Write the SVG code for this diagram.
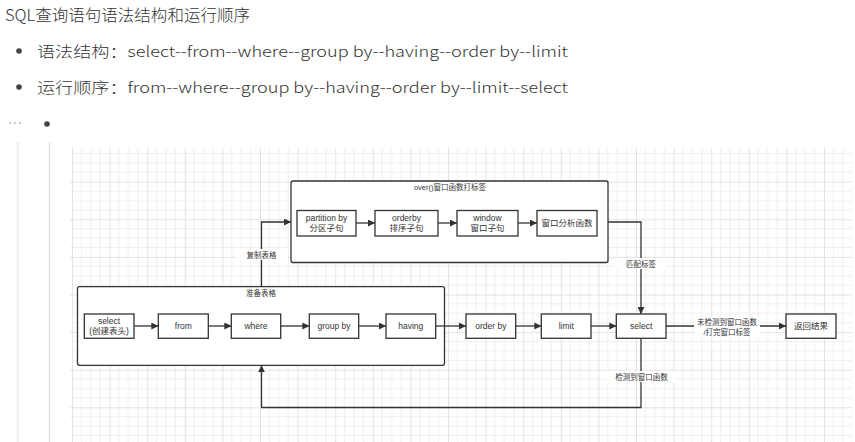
<svg xmlns="http://www.w3.org/2000/svg" width="855" height="442" viewBox="0 0 855 442">
<style>
.doc{font-family:"Noto Sans CJK SC","Noto Sans",sans-serif;fill:#333;font-weight:300}
.t{font-family:"Liberation Sans","Noto Sans CJK SC",sans-serif;font-size:8.5px;fill:#333;text-anchor:middle}
.lbl{font-family:"Liberation Sans","Noto Sans CJK SC",sans-serif;font-size:7.5px;fill:#333;text-anchor:middle}
.box{fill:#fff;stroke:#333;stroke-width:1.3}
.cont{fill:#fff;stroke:#333;stroke-width:1.3}
.e{fill:none;stroke:#333;stroke-width:1.3}
</style>
<defs>
<marker id="ah" viewBox="0 0 10 10" refX="10" refY="5" markerWidth="7" markerHeight="7" markerUnits="userSpaceOnUse" orient="auto">
<path d="M0,0 L10,5 L0,10 z" fill="#333"/>
</marker>
<pattern id="grid" x="72" y="144.1" width="37.6" height="37.6" patternUnits="userSpaceOnUse">
<path d="M9.4,0 V37.6 M18.8,0 V37.6 M28.2,0 V37.6 M0,9.4 H37.6 M0,18.8 H37.6 M0,28.2 H37.6" stroke="#efefef" stroke-width="1"/>
<path d="M0.5,0 V37.6 M0,0.5 H37.6" stroke="#e3e3e3" stroke-width="1"/>
</pattern>
</defs>
<rect width="855" height="442" fill="#fff"/>
<!-- document text -->
<text class="doc" x="5" y="21" font-size="16" textLength="245" lengthAdjust="spacingAndGlyphs">SQL查询语句语法结构和运行顺序</text>
<circle cx="19" cy="51" r="2.8" fill="#444"/>
<text class="doc" x="37" y="56.5" font-size="15" textLength="531" lengthAdjust="spacingAndGlyphs">语法结构：select--from--where--group by--having--order by--limit</text>
<circle cx="19" cy="87" r="2.8" fill="#444"/>
<text class="doc" x="37" y="92.5" font-size="15" textLength="531" lengthAdjust="spacingAndGlyphs">运行顺序：from--where--group by--having--order by--limit--select</text>
<g fill="#bbb"><circle cx="10" cy="123" r="1"/><circle cx="15" cy="123" r="1"/><circle cx="20" cy="123" r="1"/></g>
<circle cx="47" cy="124" r="2.8" fill="#444"/>
<line x1="17.7" y1="142" x2="17.7" y2="442" stroke="#ececec" stroke-width="2"/>
<line x1="49.5" y1="142" x2="49.5" y2="442" stroke="#dcdcdc" stroke-width="1.2"/>
<!-- canvas grid -->
<rect x="70" y="148" width="782" height="294" fill="url(#grid)"/>

<!-- containers -->
<g id="over-container">
<rect class="cont" x="291" y="181" width="317" height="81.5" rx="2"/>
<text class="lbl" x="450" y="190">over()窗口函数打标签</text>
</g>
<g id="prep-container">
<rect class="cont" x="77.5" y="286.7" width="367" height="78.6" rx="2"/>
<text class="lbl" x="261" y="296">准备表格</text>
</g>

<!-- connectors -->
<g id="connectors">
<path class="e" d="M356,223 H375" marker-end="url(#ah)"/>
<path class="e" d="M438,223 H457" marker-end="url(#ah)"/>
<path class="e" d="M518,223 H537" marker-end="url(#ah)"/>
<path class="e" d="M134,326 H158.3" marker-end="url(#ah)"/>
<path class="e" d="M208.3,326 H231.3" marker-end="url(#ah)"/>
<path class="e" d="M280.7,326 H309.3" marker-end="url(#ah)"/>
<path class="e" d="M358.7,326 H386" marker-end="url(#ah)"/>
<path class="e" d="M435.7,326 H466" marker-end="url(#ah)"/>
<path class="e" d="M515.7,326 H541.3" marker-end="url(#ah)"/>
<path class="e" d="M591,326 H616.3" marker-end="url(#ah)"/>
<path class="e" d="M666,326 H786" marker-end="url(#ah)"/>
<path class="e" d="M261.5,286.7 V222 H291" marker-end="url(#ah)"/>
<path class="e" d="M608,222 H641 V314" marker-end="url(#ah)"/>
<path class="e" d="M641,338.3 V407.5 H261.5 V365.3" marker-end="url(#ah)"/>
<rect x="236" y="249" width="52" height="11" fill="#fff"/>
<text class="lbl" x="261.5" y="257.5">复制表格</text>
<rect x="615" y="258" width="52" height="11" fill="#fff"/>
<text class="lbl" x="641" y="266.5">匹配标签</text>
<rect x="607" y="371" width="70" height="11" fill="#fff"/>
<text class="lbl" x="641.5" y="379.5">检测到窗口函数</text>
<rect x="694" y="317" width="66" height="20" fill="#fff"/>
<text class="lbl" x="727" y="325">未检测到窗口函数</text>
<text class="lbl" x="727" y="334.5">/打完窗口标签</text>
</g>

<!-- over() inner nodes -->
<g id="partition"><rect class="box" x="297" y="210.5" width="59" height="25.5"/><text class="t" x="326.5" y="221">partition by</text><text class="t" x="326.5" y="231">分区子句</text></g>
<g id="orderby-w"><rect class="box" x="375" y="210.5" width="63" height="25.5"/><text class="t" x="406.5" y="221">orderby</text><text class="t" x="406.5" y="231">排序子句</text></g>
<g id="window"><rect class="box" x="457" y="210.5" width="61" height="25.5"/><text class="t" x="487.5" y="221">window</text><text class="t" x="487.5" y="231">窗口子句</text></g>
<g id="analytic"><rect class="box" x="537" y="210.5" width="60" height="25.5"/><text class="t" x="567" y="226">窗口分析函数</text></g>

<!-- main row nodes -->
<g id="select-head"><rect class="box" x="84.3" y="314" width="49.7" height="24.3"/><text class="t" x="109" y="324">select</text><text class="t" x="109" y="334">(创建表头)</text></g>
<g id="from"><rect class="box" x="158.3" y="314" width="50" height="24.3"/><text class="t" x="183.3" y="329">from</text></g>
<g id="where"><rect class="box" x="231.3" y="314" width="49.4" height="24.3"/><text class="t" x="256" y="329">where</text></g>
<g id="groupby"><rect class="box" x="309.3" y="314" width="49.4" height="24.3"/><text class="t" x="334" y="329">group by</text></g>
<g id="having"><rect class="box" x="386" y="314" width="49.7" height="24.3"/><text class="t" x="410.8" y="329">having</text></g>
<g id="orderby"><rect class="box" x="466" y="314" width="49.7" height="24.3"/><text class="t" x="490.8" y="329">order by</text></g>
<g id="limit"><rect class="box" x="541.3" y="314" width="49.7" height="24.3"/><text class="t" x="566.2" y="329">limit</text></g>
<g id="select"><rect class="box" x="616.3" y="314" width="49.7" height="24.3"/><text class="t" x="641.2" y="329">select</text></g>
<g id="result"><rect class="box" x="786" y="314" width="50" height="24.3"/><text class="t" x="811" y="329">返回结果</text></g>
</svg>
